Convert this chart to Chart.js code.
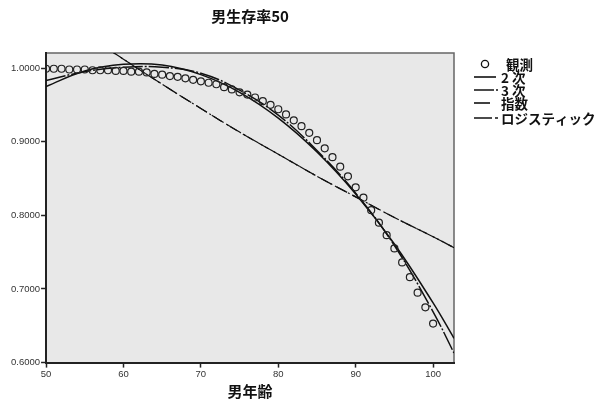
<!DOCTYPE html>
<html>
<head>
<meta charset="utf-8">
<script src="https://cdn.jsdelivr.net/npm/chart.js@4/dist/chart.umd.min.js"></script>
<style>
    html, body { margin: 0; padding: 0; background: #fff; }
    #wrap { width: 602px; height: 402px; }
</style>
</head>
<body>
<div id="wrap"><canvas id="chart"></canvas></div>
<script>
const ageObs = [50, 51, 52, 53, 54, 55, 56, 57, 58, 59, 60, 61, 62, 63, 64, 65, 66, 67, 68, 69,
    70, 71, 72, 73, 74, 75, 76, 77, 78, 79, 80, 81, 82, 83, 84, 85, 86, 87, 88, 89,
    90, 91, 92, 93, 94, 95, 96, 97, 98, 99, 100];
const observed = [0.999, 0.999, 0.999, 0.998, 0.998, 0.998, 0.997, 0.997, 0.997, 0.996,
    0.996, 0.995, 0.995, 0.994, 0.992, 0.991, 0.989, 0.988, 0.986, 0.984,
    0.982, 0.980, 0.978, 0.974, 0.971, 0.967, 0.964, 0.960, 0.955, 0.950,
    0.944, 0.937, 0.929, 0.921, 0.912, 0.902, 0.891, 0.879, 0.866, 0.853,
    0.838, 0.824, 0.807, 0.790, 0.773, 0.755, 0.736, 0.716, 0.695, 0.675, 0.653];

// Fitted curves, read at a few ages
const ageFit = [50, 55, 60, 65, 70, 75, 80, 85, 90, 95, 100, 102.7];
const quadratic = [0.975, 0.996, 1.005, 1.004, 0.991, 0.967, 0.932, 0.886, 0.829, 0.761, 0.681, 0.633];
const cubic = [0.983, 0.995, 1.001, 1.001, 0.993, 0.970, 0.936, 0.888, 0.830, 0.759, 0.669, 0.613];
const exponential = [1.083, 1.047, 1.012, 0.978, 0.945, 0.913, 0.883, 0.853, 0.825, 0.797, 0.771, 0.756];
const logistic = [1.083, 1.047, 1.012, 0.978, 0.945, 0.913, 0.883, 0.853, 0.825, 0.797, 0.771, 0.756];

const xTicks = [50, 60, 70, 80, 90, 100];
const yTicks = [0.6, 0.7, 0.8, 0.9, 1.0];

const chartTitle = '男生存率50';
const legendLabels = ['観測', '2 次', '3 次', '指数', 'ロジスティック'];

const CJK = '"Noto Sans CJK JP", "Noto Sans", sans-serif';
const NUM = '"Liberation Sans", Arial, sans-serif';

function toPoints(xs, ys) {
    return xs.map((x, i) => ({ x: x, y: ys[i] }));
}

function curve(label, ys, dash, width) {
    return {
        label: label,
        data: toPoints(ageFit, ys),
        showLine: true,
        borderColor: '#111',
        borderWidth: width,
        borderDash: dash,
        pointRadius: 0,
        tension: 0.4,
        fill: false
    };
}

// Plot background and frame, then the title (centred on the plot) and the legend
const framePlugin = {
    id: 'frame',
    beforeDraw(chart) {
        const { ctx, chartArea: a } = chart;
        ctx.save();
        ctx.fillStyle = '#e8e8e8';
        ctx.fillRect(a.left, a.top, a.right - a.left, a.bottom - a.top);
        ctx.strokeStyle = '#666';
        ctx.lineWidth = 1.5;
        ctx.beginPath();
        ctx.moveTo(a.left, a.top);
        ctx.lineTo(a.right, a.top);
        ctx.lineTo(a.right, a.bottom);
        ctx.stroke();
        ctx.restore();
    },
    afterDraw(chart) {
        const { ctx, chartArea: a } = chart;
        const x0 = 474, tx = 501;
        const rows = [64, 77, 90, 103, 118];
        ctx.save();
        ctx.strokeStyle = '#111';
        ctx.fillStyle = '#111';
        ctx.textBaseline = 'middle';

        ctx.font = 'bold 15px ' + CJK;
        ctx.textAlign = 'center';
        ctx.fillText(chartTitle, (a.left + a.right) / 2, 16);
        ctx.textAlign = 'left';

        ctx.font = 'bold 13.5px ' + CJK;

        // observed
        ctx.lineWidth = 1.3;
        ctx.beginPath();
        ctx.arc(485, rows[0], 3.6, 0, Math.PI * 2);
        ctx.stroke();

        const marks = [
            { y: rows[1], len: 22, dash: [] },
            { y: rows[2], len: 24, dash: [20, 2, 2, 20] },
            { y: rows[3], len: 16, dash: [] },
            { y: rows[4], len: 24, dash: [18, 3, 3, 20] }
        ];
        ctx.lineWidth = 1.6;
        marks.forEach(m => {
            ctx.setLineDash(m.dash);
            ctx.beginPath();
            ctx.moveTo(x0, m.y);
            ctx.lineTo(x0 + m.len, m.y);
            ctx.stroke();
        });
        ctx.setLineDash([]);

        legendLabels.forEach((t, i) => {
            ctx.fillText(t, i === 0 ? 506 : tx, rows[i] + 1);
        });
        ctx.restore();
    }
};

const ctx = document.getElementById('chart').getContext('2d');

new Chart(ctx, {
    type: 'scatter',
    data: {
        datasets: [
            {
                label: legendLabels[0],
                data: toPoints(ageObs, observed),
                pointStyle: 'circle',
                pointRadius: 3.5,
                pointBorderWidth: 1.2,
                pointBorderColor: '#222',
                pointBackgroundColor: 'rgba(0,0,0,0)',
                showLine: false
            },
            curve(legendLabels[1], quadratic, [], 1.5),
            curve(legendLabels[2], cubic, [20, 2, 2, 2], 1.5),
            curve(legendLabels[3], exponential, [12, 6], 1.2),
            curve(legendLabels[4], logistic, [12, 3, 2, 3], 1.2)
        ]
    },
    options: {
        responsive: true,
        maintainAspectRatio: false,
        animation: false,
        layout: {
            padding: { left: 10, right: 148, top: 53, bottom: 2 }
        },
        scales: {
            x: {
                type: 'linear',
                min: 50,
                max: 102.7,
                afterBuildTicks: scale => { scale.ticks = xTicks.map(v => ({ value: v })); },
                ticks: {
                    font: { family: NUM, size: 9.5 },
                    color: '#333',
                    padding: 1,
                    maxRotation: 0,
                    callback: v => v
                },
                grid: { drawOnChartArea: false, tickLength: 5, tickWidth: 1.5, tickColor: '#222' },
                border: { color: '#222', width: 2 },
                title: {
                    display: true,
                    text: '男年齢',
                    color: '#111',
                    font: { family: CJK, size: 15, weight: 'bold' },
                    padding: { top: 1, bottom: 0 }
                }
            },
            y: {
                min: 0.6,
                max: 1.0204,
                afterBuildTicks: scale => { scale.ticks = yTicks.map(v => ({ value: v })); },
                ticks: {
                    font: { family: NUM, size: 9.5 },
                    color: '#333',
                    padding: 1,
                    callback: v => v.toFixed(4)
                },
                grid: { drawOnChartArea: false, tickLength: 5, tickWidth: 1.5, tickColor: '#222' },
                border: { color: '#222', width: 2 }
            }
        },
        plugins: {
            legend: { display: false },
            tooltip: { enabled: false },
            title: { display: false }
        }
    },
    plugins: [framePlugin]
});
</script>
</body>
</html>
